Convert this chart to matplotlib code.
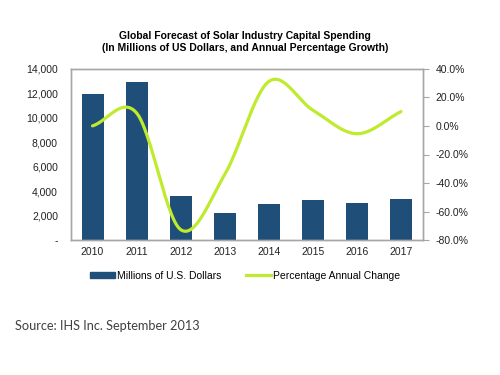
import numpy as np
import matplotlib.pyplot as plt
from matplotlib.ticker import FuncFormatter
from matplotlib.patches import Patch
from matplotlib.lines import Line2D

years = ['2010', '2011', '2012', '2013', '2014', '2015', '2016', '2017']
spending = [11960, 12940, 3580, 2250, 2950, 3280, 3070, 3340]
pct_change = [0.0, 9.0, -72.5, -34.0, 31.0, 11.0, -5.5, 10.0]

bar_color = '#1F4E79'
line_color = '#BFEA2E'
frame_color = '#A6A6A6'

plt.rcParams['font.family'] = ['Liberation Sans', 'DejaVu Sans']


def smooth_curve(x, y, steps=30):
    # Catmull-Rom style smoothing like Excel's smoothed line
    x = np.asarray(x, float)
    y = np.asarray(y, float)
    px = np.concatenate([[2 * x[0] - x[1]], x, [2 * x[-1] - x[-2]]])
    py = np.concatenate([[2 * y[0] - y[1]], y, [2 * y[-1] - y[-2]]])
    out_x, out_y = [], []
    t = np.linspace(0, 1, steps)
    for i in range(1, len(px) - 2):
        for p, out in ((px, out_x), (py, out_y)):
            p0, p1, p2, p3 = p[i - 1], p[i], p[i + 1], p[i + 2]
            seg = 0.5 * ((2 * p1) + (-p0 + p2) * t
                         + (2 * p0 - 5 * p1 + 4 * p2 - p3) * t ** 2
                         + (-p0 + 3 * p1 - 3 * p2 + p3) * t ** 3)
            out.extend(seg)
    return np.array(out_x), np.array(out_y)


fig = plt.figure(figsize=(5, 3.75), dpi=100)
ax = fig.add_axes([0.141, 0.359, 0.705, 0.458])
ax2 = ax.twinx()

x = np.arange(len(years))
ax.bar(x, spending, width=0.5, color=bar_color, zorder=2)
ax.set_xlim(-0.5, len(years) - 0.5)
ax.set_ylim(0, 14000)
ax.set_yticks(range(0, 14001, 2000))
ax.yaxis.set_major_formatter(FuncFormatter(lambda v, p: '-' if v == 0 else f'{v:,.0f}'))
ax.set_xticks(x)
ax.set_xticklabels(years)

sx, sy = smooth_curve(x, pct_change)
ax2.plot(sx, sy, color=line_color, linewidth=2.3, solid_capstyle='round')
ax2.set_ylim(-80, 40)
ax2.set_yticks(range(-80, 41, 20))
ax2.yaxis.set_major_formatter(FuncFormatter(lambda v, p: f'{v:.1f}%'))

for a in (ax, ax2):
    for s in a.spines.values():
        s.set_color(frame_color)
        s.set_linewidth(1.0)
    a.tick_params(labelsize=7.5, colors='#222222', length=3)
    a.tick_params(color=frame_color)
ax.tick_params(axis='x', length=0, pad=5)
ax.tick_params(axis='y', length=0, pad=9)
ax2.tick_params(axis='y', length=4, pad=5)

fig.text(0.49, 0.903, 'Global Forecast of Solar Industry Capital Spending',
         ha='center', va='center', fontsize=7.5, fontweight='bold')
fig.text(0.49, 0.872, '(In Millions of US Dollars, and Annual Percentage Growth)',
         ha='center', va='center', fontsize=7.5, fontweight='bold')

handles = [Patch(color=bar_color), Line2D([0], [0], color=line_color, linewidth=2.3)]
fig.legend(handles, ['Millions of U.S. Dollars', 'Percentage Annual Change'],
           loc='center', bbox_to_anchor=(0.49, 0.265), ncol=2, frameon=False,
           fontsize=7.5, handlelength=2.4, handleheight=0.5, columnspacing=2.3,
           handletextpad=0.2)

fig.text(0.03, 0.131, 'Source: IHS Inc. September 2013', ha='left', va='center',
         fontsize=9.2, color='#404040', family=['Lato', 'DejaVu Sans'])

fig.savefig('out.png', dpi=100)
